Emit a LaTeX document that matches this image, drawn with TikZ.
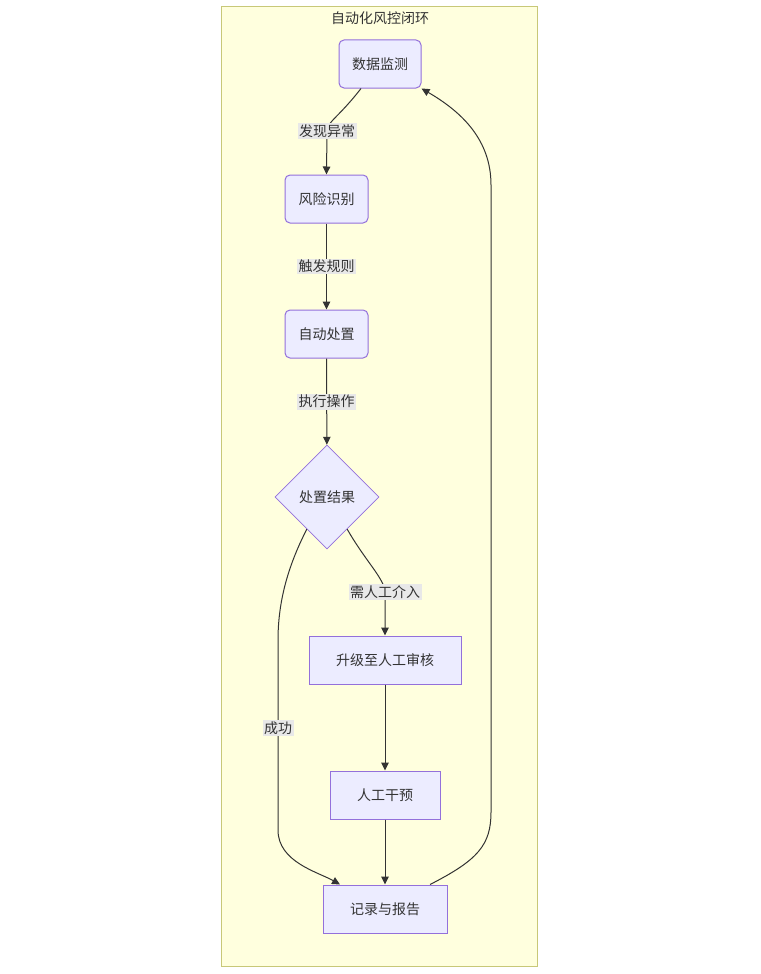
\documentclass[tikz,border=0pt]{standalone}
\usepackage{fontspec}
\newfontfamily\cjk{Noto Sans CJK SC}
\usetikzlibrary{shapes.geometric,arrows.meta}
\definecolor{clfill}{HTML}{FFFFDE}
\definecolor{cldraw}{HTML}{C8C878}
\definecolor{nfill}{HTML}{ECECFF}
\definecolor{ndraw}{HTML}{9370DB}
\definecolor{txt}{HTML}{333333}
\definecolor{lblbg}{HTML}{E8E8E8}
\tikzset{
  cluster/.style={draw=cldraw, fill=clfill, line width=1pt, minimum width=316pt, minimum height=959pt, inner sep=0pt},
  ttl/.style={text=txt, font=\cjk\fontsize{14}{16}\selectfont, inner sep=0pt},
  rnode/.style={draw=ndraw, fill=nfill, line width=1pt, rounded corners=5pt, minimum height=48pt, text=txt, font=\cjk\fontsize{14}{16}\selectfont, inner sep=0pt},
  snode/.style={draw=ndraw, fill=nfill, line width=1pt, minimum height=48pt, text=txt, font=\cjk\fontsize{14}{16}\selectfont, inner sep=0pt},
  dnode/.style={diamond, draw=ndraw, fill=nfill, line width=0.8pt, minimum width=104pt, minimum height=104pt, text=txt, font=\cjk\fontsize{14}{16}\selectfont, inner sep=0pt},
  lbl/.style={fill=lblbg, text=txt, font=\cjk\fontsize{14}{16}\selectfont, inner sep=1.5pt},
  edge/.style={draw=txt, line width=1pt, -{Triangle[length=8pt,width=7.5pt]}}
}
\begin{document}
\begin{tikzpicture}[x=1pt,y=-1pt]
\useasboundingbox (0,0) rectangle (760,974);
\node[cluster] (loop) at (379,486.5) {};
\node[ttl] (title) at (380,18) {自动化风控闭环};
\node[rnode, minimum width=82pt] (mon) at (380,64) {数据监测};
\node[rnode, minimum width=83pt] (risk) at (326.5,199) {风险识别};
\node[rnode, minimum width=83pt] (auto) at (326.5,334) {自动处置};
\node[dnode] (res) at (327,497) {处置结果};
\node[snode, minimum width=152pt] (upg) at (385,660) {升级至人工审核};
\node[snode, minimum width=110pt] (hum) at (385,795) {人工干预};
\node[snode, minimum width=124pt] (rec) at (385,909) {记录与报告};

\draw[edge] ([xshift=-19pt]mon.south) .. controls (338,118) and (327,122) .. (327,131) node[lbl] {发现异常} -- (risk.north);
\draw[edge] (risk) -- node[lbl] {触发规则} (auto);
\draw[edge] (auto) -- node[lbl] {执行操作} (res);
\draw[edge] (res.-45) ++(-6pt,-6pt) .. controls (366,562) and (384,578) .. (385,592) node[lbl] {需人工介入} -- (upg.north);
\draw[edge] (res.-135) ++(6pt,-6pt) .. controls (290,562) and (278,598) .. (278,640) -- (278,728) node[lbl] {成功} -- (278,830) .. controls (278,862) and (318,872) .. ([xshift=-45pt]rec.north);
\draw[edge] (upg) -- (hum);
\draw[edge] (hum) -- (rec);
\draw[edge] ([xshift=45pt]rec.north) .. controls (478,860) and (491,845) .. (491,812) -- (491,185) .. controls (491,140) and (462,112) .. (mon.south east);
\end{tikzpicture}
\end{document}
